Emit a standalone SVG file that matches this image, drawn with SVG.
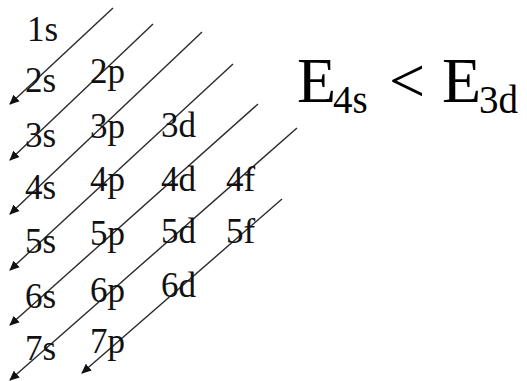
<svg xmlns="http://www.w3.org/2000/svg" width="527" height="381" viewBox="0 0 527 381">
<defs>
<marker id="ah" viewBox="0 0 10 10" refX="9" refY="5" markerWidth="10" markerHeight="10" markerUnits="userSpaceOnUse" orient="auto">
<path d="M0,0.5 L10,5 L0,9.5 z" fill="#111"/>
</marker>
<style>
.lbl{font-family:"Liberation Serif","Times New Roman",serif;font-size:35px;fill:#111}
.big{font-family:"Liberation Serif","Times New Roman",serif;font-size:64px;fill:#000}
.sub{font-family:"Liberation Serif","Times New Roman",serif;font-size:39px;fill:#000}
.ln{stroke:#2a2a2a;stroke-width:1.4;fill:none;marker-end:url(#ah)}
</style>
</defs>
<rect width="527" height="381" fill="#fff"/>
<g id="connectors">
<line class="ln" x1="113" y1="8" x2="10" y2="104"/>
<line class="ln" x1="153" y1="24" x2="10" y2="160"/>
<line class="ln" x1="202" y1="32" x2="10" y2="214"/>
<line class="ln" x1="233" y1="64" x2="10" y2="270"/>
<line class="ln" x1="258" y1="104" x2="10" y2="325"/>
<line class="ln" x1="297" y1="128" x2="10" y2="380"/>
<line class="ln" x1="282" y1="199" x2="82" y2="373"/>
</g>
<g id="n1s"><text class="lbl" x="27" y="41">1s</text></g>
<g id="n2s"><text class="lbl" x="25" y="92">2s</text></g>
<g id="n2p"><text class="lbl" x="90" y="83">2p</text></g>
<g id="n3s"><text class="lbl" x="25" y="147">3s</text></g>
<g id="n3p"><text class="lbl" x="90" y="138">3p</text></g>
<g id="n3d"><text class="lbl" x="161" y="137">3d</text></g>
<g id="n4s"><text class="lbl" x="25" y="199">4s</text></g>
<g id="n4p"><text class="lbl" x="90" y="191">4p</text></g>
<g id="n4d"><text class="lbl" x="161" y="191">4d</text></g>
<g id="n4f"><text class="lbl" x="226" y="191">4f</text></g>
<g id="n5s"><text class="lbl" x="25" y="253">5s</text></g>
<g id="n5p"><text class="lbl" x="90" y="245">5p</text></g>
<g id="n5d"><text class="lbl" x="161" y="243">5d</text></g>
<g id="n5f"><text class="lbl" x="226" y="243">5f</text></g>
<g id="n6s"><text class="lbl" x="25" y="308">6s</text></g>
<g id="n6p"><text class="lbl" x="90" y="302">6p</text></g>
<g id="n6d"><text class="lbl" x="161" y="297">6d</text></g>
<g id="n7s"><text class="lbl" x="25" y="360">7s</text></g>
<g id="n7p"><text class="lbl" x="90" y="353">7p</text></g>
<g id="energy">
<text class="big" x="297" y="102">E</text>
<text class="sub" x="333" y="113">4s</text>
<text class="big" x="389" y="102">&lt;</text>
<text class="big" x="442" y="102">E</text>
<text class="sub" x="479" y="113">3d</text>
</g>
</svg>
